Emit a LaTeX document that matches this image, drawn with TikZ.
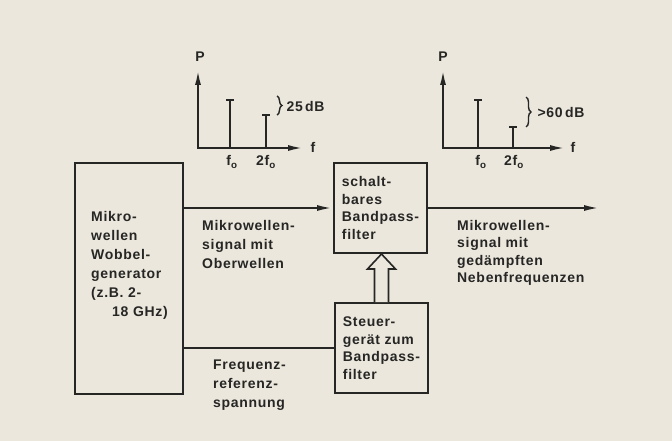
\documentclass[tikz,border=0pt]{standalone}
\usepackage{fontspec}
\setmainfont{Liberation Sans}[LetterSpace=5]
\usetikzlibrary{arrows.meta,calc,decorations.pathreplacing}
\definecolor{paper}{RGB}{235,231,221}
\definecolor{ink}{RGB}{38,38,36}
\newcommand\lbltext{\fontsize{14}{17.5}\selectfont\bfseries}
\newcommand\widetext{\fontsize{14}{19}\selectfont\bfseries}

\begin{document}
\begin{tikzpicture}[x=1pt, y=-1pt, every node/.style={text=ink, font=\lbltext},
  box/.style={draw=ink, line width=2pt, minimum width=93pt, minimum height=90pt,
    inner sep=0pt, align=left},
  note/.style={anchor=north west, inner sep=0pt, align=left},
  sig/.style={draw=ink, line width=2.2pt, -{Latex[length=16pt,width=6pt]}},
  axis/.style={draw=ink, line width=2pt, -{Latex[length=15pt,width=6pt]}},
  peak/.style={draw=ink, line width=2pt},
  brace/.style={draw=ink, line width=1.4pt, decorate, decoration={brace, amplitude=5pt}}]
  \fill[paper] (0,0) rectangle (672,441);
  \useasboundingbox (0,0) rectangle (672,441);

  % blocks
  \node[box, minimum width=108pt, minimum height=231pt] (gen) at (129,278.5) {};
  \node[note, font=\widetext] (gentext) at (91,211) {Mikro-\\wellen\\Wobbel-\\generator\\(z.B. 2-\\\hspace*{21pt}18 GHz)};
  \node[box] (filt) at (380.5,208) {schalt-\\bares\\Bandpass-\\filter};
  \node[box] (ctrl) at (381.5,348) {Steuer-\\gerät zum\\Bandpass-\\filter};

  % signal labels
  \node[note, font=\widetext] (inlbl) at (202,220) {Mikrowellen-\\signal mit\\Oberwellen};
  \node[note] (outlbl) at (457,220) {Mikrowellen-\\signal mit\\gedämpften\\Nebenfrequenzen};
  \node[note, font=\widetext] (reflbl) at (213,360) {Frequenz-\\referenz-\\spannung};

  % connectors
  \coordinate (out) at (600,208);
  \draw[sig] (gen.east |- filt.west) -- (filt.west);
  \draw[sig] (filt.east) -- (out);
  \draw[ink, line width=1.2pt] (gen.east |- ctrl.west) -- (ctrl.west);
  \draw[ink, line width=1.6pt, fill=paper]
    ($(ctrl.north)+(-7,0)$) -- ($(ctrl.north |- filt.south)+(-7,15)$)
    -- ($(ctrl.north |- filt.south)+(-14,15)$) -- (ctrl.north |- filt.south)
    -- ($(ctrl.north |- filt.south)+(14,15)$) -- ($(ctrl.north |- filt.south)+(7,15)$)
    -- ($(ctrl.north)+(7,0)$);

  % spectrum before filter
  \draw[axis] (198,149) -- (198,70);
  \draw[axis] (197,148) -- (303,148);
  \node (pa) at (200,57) {P};
  \node (fa) at (313,147) {f};
  \draw[peak] (230,148) -- (230,100) (226,100) -- (234,100);
  \draw[peak] (266,148) -- (266,115) (262,115) -- (270,115);
  \draw[brace] (277,96) -- (277,115);
  \node[anchor=west] (da) at (283,106) {25\,dB};
  \node (f0a) at (232,162) {f\textsubscript{o}};
  \node (f2a) at (266,162) {2f\textsubscript{o}};

  % spectrum after filter
  \draw[axis] (443,149) -- (443,70);
  \draw[axis] (442,148) -- (565,148);
  \node (pb) at (443,57) {P};
  \node (fb) at (573,147) {f};
  \draw[peak] (478,148) -- (478,100) (474,100) -- (482,100);
  \draw[peak] (513,148) -- (513,127) (509,127) -- (517,127);
  \draw[brace] (526,97) -- (526,127);
  \node[anchor=west] (db) at (534,112) {>60\,dB};
  \node (f0b) at (481,162) {f\textsubscript{o}};
  \node (f2b) at (514,162) {2f\textsubscript{o}};
\end{tikzpicture}
\end{document}
